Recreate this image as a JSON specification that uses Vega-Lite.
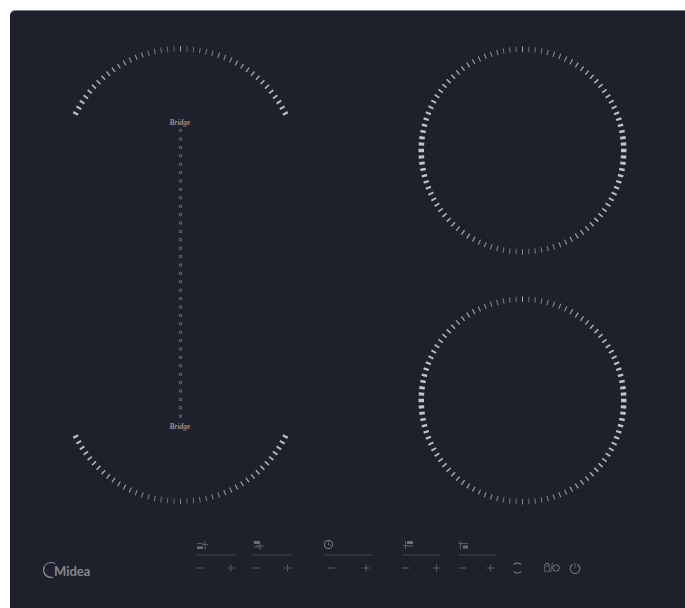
{
"$schema":"https://vega.github.io/schema/vega-lite/v6.json",
"width":685,"height":608,"padding":0,"background":"#ffffff",
"autosize":{"type":"fit","contains":"padding"},
"config":{"view":{"stroke":null}},
"resolve":{"scale":{"theta":"independent"}},
"datasets":{
"hobRing":[
{"from":-0.25,"to":0.25,"heat":0.9},{"from":3.32,"to":3.88,"heat":0.06},{"from":6.91,"to":7.49,"heat":0.13},{"from":10.51,"to":11.09,"heat":0.19},{"from":14.1,"to":14.7,"heat":0.25},{"from":17.69,"to":18.31,"heat":0.31},{"from":21.28,"to":21.92,"heat":0.37},{"from":24.87,"to":25.53,"heat":0.43},{"from":28.46,"to":29.14,"heat":0.48},{"from":32.05,"to":32.75,"heat":0.54},
{"from":35.63,"to":36.37,"heat":0.59},{"from":39.21,"to":39.99,"heat":0.64},{"from":42.78,"to":43.62,"heat":0.68},{"from":46.36,"to":47.24,"heat":0.73},{"from":49.94,"to":50.86,"heat":0.77},{"from":53.52,"to":54.48,"heat":0.81},{"from":57.1,"to":58.1,"heat":0.84},{"from":60.68,"to":61.72,"heat":0.88},{"from":64.25,"to":65.35,"heat":0.9},{"from":67.81,"to":68.99,"heat":0.93},
{"from":71.37,"to":72.63,"heat":0.95},{"from":74.91,"to":76.29,"heat":0.97},{"from":78.45,"to":79.95,"heat":0.98},{"from":81.98,"to":83.62,"heat":0.99},{"from":85.5,"to":87.3,"heat":1},{"from":89.03,"to":90.97,"heat":1},{"from":92.7,"to":94.5,"heat":1},{"from":96.38,"to":98.02,"heat":0.99},{"from":100.05,"to":101.55,"heat":0.98},{"from":103.71,"to":105.09,"heat":0.97},
{"from":107.37,"to":108.63,"heat":0.95},{"from":111.01,"to":112.19,"heat":0.93},{"from":114.65,"to":115.75,"heat":0.9},{"from":118.28,"to":119.32,"heat":0.88},{"from":121.9,"to":122.9,"heat":0.84},{"from":125.52,"to":126.48,"heat":0.81},{"from":129.14,"to":130.06,"heat":0.77},{"from":132.76,"to":133.64,"heat":0.73},{"from":136.38,"to":137.22,"heat":0.68},{"from":140.01,"to":140.79,"heat":0.64},
{"from":143.63,"to":144.37,"heat":0.59},{"from":147.25,"to":147.95,"heat":0.54},{"from":150.86,"to":151.54,"heat":0.48},{"from":154.47,"to":155.13,"heat":0.43},{"from":158.08,"to":158.72,"heat":0.37},{"from":161.69,"to":162.31,"heat":0.31},{"from":165.3,"to":165.9,"heat":0.25},{"from":168.91,"to":169.49,"heat":0.19},{"from":172.51,"to":173.09,"heat":0.13},{"from":176.12,"to":176.68,"heat":0.06},
{"from":179.75,"to":180.25,"heat":0.5},{"from":183.32,"to":183.88,"heat":0.06},{"from":186.91,"to":187.49,"heat":0.13},{"from":190.51,"to":191.09,"heat":0.19},{"from":194.1,"to":194.7,"heat":0.25},{"from":197.69,"to":198.31,"heat":0.31},{"from":201.28,"to":201.92,"heat":0.37},{"from":204.87,"to":205.53,"heat":0.43},{"from":208.46,"to":209.14,"heat":0.48},{"from":212.05,"to":212.75,"heat":0.54},
{"from":215.63,"to":216.37,"heat":0.59},{"from":219.21,"to":219.99,"heat":0.64},{"from":222.78,"to":223.62,"heat":0.68},{"from":226.36,"to":227.24,"heat":0.73},{"from":229.94,"to":230.86,"heat":0.77},{"from":233.52,"to":234.48,"heat":0.81},{"from":237.1,"to":238.1,"heat":0.84},{"from":240.68,"to":241.72,"heat":0.88},{"from":244.25,"to":245.35,"heat":0.9},{"from":247.81,"to":248.99,"heat":0.93},
{"from":251.37,"to":252.63,"heat":0.95},{"from":254.91,"to":256.29,"heat":0.97},{"from":258.45,"to":259.95,"heat":0.98},{"from":261.98,"to":263.62,"heat":0.99},{"from":265.5,"to":267.3,"heat":1},{"from":269.03,"to":270.97,"heat":1},{"from":272.7,"to":274.5,"heat":1},{"from":276.38,"to":278.02,"heat":0.99},{"from":280.05,"to":281.55,"heat":0.98},{"from":283.71,"to":285.09,"heat":0.97},
{"from":287.37,"to":288.63,"heat":0.95},{"from":291.01,"to":292.19,"heat":0.93},{"from":294.65,"to":295.75,"heat":0.9},{"from":298.28,"to":299.32,"heat":0.88},{"from":301.9,"to":302.9,"heat":0.84},{"from":305.52,"to":306.48,"heat":0.81},{"from":309.14,"to":310.06,"heat":0.77},{"from":312.76,"to":313.64,"heat":0.73},{"from":316.38,"to":317.22,"heat":0.68},{"from":320.01,"to":320.79,"heat":0.64},
{"from":323.63,"to":324.37,"heat":0.59},{"from":327.25,"to":327.95,"heat":0.54},{"from":330.86,"to":331.54,"heat":0.48},{"from":334.47,"to":335.13,"heat":0.43},{"from":338.08,"to":338.72,"heat":0.37},{"from":341.69,"to":342.31,"heat":0.31},{"from":345.3,"to":345.9,"heat":0.25},{"from":348.91,"to":349.49,"heat":0.19},{"from":352.51,"to":353.09,"heat":0.13},{"from":356.12,"to":356.68,"heat":0.06}
],
"bridgeTop":[
{"from":-0.2,"to":0.2,"heat":0.9},{"from":3.09,"to":3.51,"heat":0.06},{"from":6.38,"to":6.82,"heat":0.12},{"from":9.67,"to":10.13,"heat":0.17},{"from":12.96,"to":13.44,"heat":0.23},{"from":16.25,"to":16.75,"heat":0.28},{"from":19.54,"to":20.06,"heat":0.34},{"from":22.83,"to":23.37,"heat":0.39},{"from":26.12,"to":26.68,"heat":0.45},{"from":29.41,"to":29.99,"heat":0.5},
{"from":32.7,"to":33.3,"heat":0.55},{"from":35.98,"to":36.62,"heat":0.59},{"from":39.26,"to":39.94,"heat":0.64},{"from":42.54,"to":43.26,"heat":0.68},{"from":45.82,"to":46.58,"heat":0.72},{"from":49.09,"to":49.91,"heat":0.76},{"from":52.36,"to":53.24,"heat":0.8},{"from":55.63,"to":56.57,"heat":0.83},{"from":58.89,"to":59.91,"heat":0.86},{"from":62.15,"to":63.25,"heat":0.89},{"from":65.4,"to":66.6,"heat":0.91},
{"from":-3.51,"to":-3.09,"heat":0.06},{"from":-6.82,"to":-6.38,"heat":0.12},{"from":-10.13,"to":-9.67,"heat":0.17},{"from":-13.44,"to":-12.96,"heat":0.23},{"from":-16.75,"to":-16.25,"heat":0.28},{"from":-20.06,"to":-19.54,"heat":0.34},{"from":-23.37,"to":-22.83,"heat":0.39},{"from":-26.68,"to":-26.12,"heat":0.45},{"from":-29.99,"to":-29.41,"heat":0.5},
{"from":-33.3,"to":-32.7,"heat":0.55},{"from":-36.62,"to":-35.98,"heat":0.59},{"from":-39.94,"to":-39.26,"heat":0.64},{"from":-43.26,"to":-42.54,"heat":0.68},{"from":-46.58,"to":-45.82,"heat":0.72},{"from":-49.91,"to":-49.09,"heat":0.76},{"from":-53.24,"to":-52.36,"heat":0.8},{"from":-56.57,"to":-55.63,"heat":0.83},{"from":-59.91,"to":-58.89,"heat":0.86},{"from":-63.25,"to":-62.15,"heat":0.89},{"from":-66.6,"to":-65.4,"heat":0.91}
],
"bridgeBottom":[
{"from":179.8,"to":180.2,"heat":0.5},{"from":183.09,"to":183.51,"heat":0.06},{"from":186.38,"to":186.82,"heat":0.12},{"from":189.67,"to":190.13,"heat":0.17},{"from":192.96,"to":193.44,"heat":0.23},{"from":196.25,"to":196.75,"heat":0.28},{"from":199.54,"to":200.06,"heat":0.34},{"from":202.83,"to":203.37,"heat":0.39},{"from":206.12,"to":206.68,"heat":0.45},{"from":209.41,"to":209.99,"heat":0.5},
{"from":212.7,"to":213.3,"heat":0.55},{"from":215.98,"to":216.62,"heat":0.59},{"from":219.26,"to":219.94,"heat":0.64},{"from":222.54,"to":223.26,"heat":0.68},{"from":225.82,"to":226.58,"heat":0.72},{"from":229.09,"to":229.91,"heat":0.76},{"from":232.36,"to":233.24,"heat":0.8},{"from":235.63,"to":236.57,"heat":0.83},{"from":238.89,"to":239.91,"heat":0.86},{"from":242.15,"to":243.25,"heat":0.89},{"from":245.4,"to":246.6,"heat":0.91},
{"from":176.49,"to":176.91,"heat":0.06},{"from":173.18,"to":173.62,"heat":0.12},{"from":169.87,"to":170.33,"heat":0.17},{"from":166.56,"to":167.04,"heat":0.23},{"from":163.25,"to":163.75,"heat":0.28},{"from":159.94,"to":160.46,"heat":0.34},{"from":156.63,"to":157.17,"heat":0.39},{"from":153.32,"to":153.88,"heat":0.45},{"from":150.01,"to":150.59,"heat":0.5},
{"from":146.7,"to":147.3,"heat":0.55},{"from":143.38,"to":144.02,"heat":0.59},{"from":140.06,"to":140.74,"heat":0.64},{"from":136.74,"to":137.46,"heat":0.68},{"from":133.42,"to":134.18,"heat":0.72},{"from":130.09,"to":130.91,"heat":0.76},{"from":126.76,"to":127.64,"heat":0.8},{"from":123.43,"to":124.37,"heat":0.83},{"from":120.09,"to":121.11,"heat":0.86},{"from":116.75,"to":117.85,"heat":0.89},{"from":113.4,"to":114.6,"heat":0.91}
]
},
"layer":[
{"data":{"values":[{"x":10,"x2":700,"y":10,"y2":620}]},
 "mark":{"type":"rect","color":"#80828a","cornerRadius":5,"clip":true},
 "encoding":{
  "x":{"field":"x","type":"quantitative","axis":null,"scale":{"domain":[0,685],"nice":false,"zero":false}},
  "y":{"field":"y","type":"quantitative","axis":null,"scale":{"domain":[0,608],"nice":false,"zero":false,"reverse":true}},
  "x2":{"field":"x2"},"y2":{"field":"y2"}}},
{"data":{"values":[{"x":10,"x2":700,"y":11,"y2":620}]},
 "mark":{"type":"rect","color":"#1e202c","cornerRadius":5,"clip":true},
 "encoding":{
  "x":{"field":"x","type":"quantitative","axis":null,"scale":{"domain":[0,685],"nice":false,"zero":false}},
  "y":{"field":"y","type":"quantitative","axis":null,"scale":{"domain":[0,608],"nice":false,"zero":false,"reverse":true}},
  "x2":{"field":"x2"},"y2":{"field":"y2"}}},
{"data":{"name":"hobRing"},"mark":{"type":"arc","radius":104,"radius2":98.5,"color":"#eeeeee"},
 "encoding":{
  "x":{"datum":522.5,"type":"quantitative","axis":null,"scale":{"domain":[0,685],"nice":false,"zero":false}},
  "y":{"datum":150.5,"type":"quantitative","axis":null,"scale":{"domain":[0,608],"nice":false,"zero":false,"reverse":true}},
  "theta":{"field":"from","type":"quantitative","stack":false,"scale":{"domain":[0,360],"range":[0,6.283185]}},"theta2":{"field":"to"},
  "opacity":{"field":"heat","type":"quantitative","legend":null,"scale":{"domain":[0,1],"range":[0.38,0.8]}}}},
{"data":{"name":"hobRing"},"mark":{"type":"arc","radius":104,"radius2":98.5,"color":"#eeeeee"},
 "encoding":{
  "x":{"datum":522.5,"type":"quantitative","axis":null,"scale":{"domain":[0,685],"nice":false,"zero":false}},
  "y":{"datum":400.5,"type":"quantitative","axis":null,"scale":{"domain":[0,608],"nice":false,"zero":false,"reverse":true}},
  "theta":{"field":"from","type":"quantitative","stack":false,"scale":{"domain":[0,360],"range":[0,6.283185]}},"theta2":{"field":"to"},
  "opacity":{"field":"heat","type":"quantitative","legend":null,"scale":{"domain":[0,1],"range":[0.38,0.8]}}}},
{"data":{"name":"bridgeTop"},"mark":{"type":"arc","radius":120,"radius2":114.5,"color":"#eeeeee"},
 "encoding":{
  "x":{"datum":180.5,"type":"quantitative","axis":null,"scale":{"domain":[0,685],"nice":false,"zero":false}},
  "y":{"datum":166,"type":"quantitative","axis":null,"scale":{"domain":[0,608],"nice":false,"zero":false,"reverse":true}},
  "theta":{"field":"from","type":"quantitative","stack":false,"scale":{"domain":[0,360],"range":[0,6.03186]}},"theta2":{"field":"to"},
  "opacity":{"field":"heat","type":"quantitative","legend":null,"scale":{"domain":[0,1],"range":[0.38,0.8]}}}},
{"data":{"name":"bridgeBottom"},"mark":{"type":"arc","radius":120,"radius2":114.5,"color":"#eeeeee"},
 "encoding":{
  "x":{"datum":180.5,"type":"quantitative","axis":null,"scale":{"domain":[0,685],"nice":false,"zero":false}},
  "y":{"datum":384,"type":"quantitative","axis":null,"scale":{"domain":[0,608],"nice":false,"zero":false,"reverse":true}},
  "theta":{"field":"from","type":"quantitative","stack":false,"scale":{"domain":[0,360],"range":[0.12566,6.15752]}},"theta2":{"field":"to"},
  "opacity":{"field":"heat","type":"quantitative","legend":null,"scale":{"domain":[0,1],"range":[0.38,0.8]}}}},
{"encoding":{
  "x":{"field":"x","type":"quantitative","axis":null,"scale":{"domain":[0,685],"nice":false,"zero":false}},
  "y":{"field":"y","type":"quantitative","axis":null,"scale":{"domain":[0,608],"nice":false,"zero":false,"reverse":true}}},
 "layer":[
{"data":{"values":[
{"x":180.5,"y":130.5},{"x":180.5,"y":139},{"x":180.5,"y":147.4},{"x":180.5,"y":155.8},{"x":180.5,"y":164.2},{"x":180.5,"y":172.6},{"x":180.5,"y":181},{"x":180.5,"y":189.4},{"x":180.5,"y":197.8},{"x":180.5,"y":206.2},
{"x":180.5,"y":214.6},{"x":180.5,"y":223},{"x":180.5,"y":231.4},{"x":180.5,"y":239.8},{"x":180.5,"y":248.2},{"x":180.5,"y":256.6},{"x":180.5,"y":265},{"x":180.5,"y":273.4},{"x":180.5,"y":281.8},{"x":180.5,"y":290.2},
{"x":180.5,"y":298.6},{"x":180.5,"y":307},{"x":180.5,"y":315.4},{"x":180.5,"y":323.8},{"x":180.5,"y":332.2},{"x":180.5,"y":340.6},{"x":180.5,"y":349},{"x":180.5,"y":357.4},{"x":180.5,"y":365.8},{"x":180.5,"y":374.2},
{"x":180.5,"y":382.6},{"x":180.5,"y":391},{"x":180.5,"y":399.4},{"x":180.5,"y":407.8},{"x":180.5,"y":416.2}]},
 "mark":{"type":"point","shape":"square","size":5,"filled":false,"stroke":"#8a8b92","strokeWidth":0.7,"opacity":0.9}},
{"data":{"values":[
{"x":197,"x2":235,"y":555,"y2":555},{"x":253,"x2":291,"y":555,"y2":555},{"x":324,"x2":373,"y":555,"y2":555},{"x":402.5,"x2":440,"y":555,"y2":555},{"x":458,"x2":495,"y":555,"y2":555}]},
 "mark":{"type":"rule","color":"#44454f","strokeWidth":1},
 "encoding":{"x2":{"field":"x2"},"y2":{"field":"y2"}}},
{"data":{"values":[
{"x":196,"x2":203,"y":568,"y2":568},{"x":227.5,"x2":234.5,"y":568,"y2":568},{"x":231,"x2":231,"y":564.5,"y2":571.5},
{"x":253,"x2":260,"y":568,"y2":568},{"x":284,"x2":291,"y":568,"y2":568},{"x":287.5,"x2":287.5,"y":564.5,"y2":571.5},
{"x":328,"x2":335,"y":568,"y2":568},{"x":362.5,"x2":369.5,"y":568,"y2":568},{"x":366,"x2":366,"y":564.5,"y2":571.5},
{"x":402,"x2":409,"y":568,"y2":568},{"x":433,"x2":440,"y":568,"y2":568},{"x":436.5,"x2":436.5,"y":564.5,"y2":571.5},
{"x":459,"x2":466,"y":568,"y2":568},{"x":487,"x2":494,"y":568,"y2":568},{"x":490.5,"x2":490.5,"y":564.5,"y2":571.5},
{"x":197,"x2":203,"y":543.5,"y2":543.5},{"x":205,"x2":205,"y":541,"y2":549.5},{"x":202,"x2":208,"y":544.5,"y2":544.5},
{"x":254,"x2":260,"y":547,"y2":547},{"x":260,"x2":260,"y":543.5,"y2":550},{"x":256,"x2":264,"y":546,"y2":546},
{"x":405.5,"x2":405.5,"y":541,"y2":549.5},{"x":403,"x2":408,"y":545.5,"y2":545.5},{"x":407,"x2":413,"y":546,"y2":546},
{"x":460.5,"x2":460.5,"y":541,"y2":549.5},{"x":458,"x2":468,"y":543.5,"y2":543.5},
{"x":328.5,"x2":328.5,"y":541.5,"y2":545},{"x":328.5,"x2":331,"y":545,"y2":545},
{"x":575,"x2":575,"y":563,"y2":568.5},{"x":550.5,"x2":552.5,"y":572.5,"y2":563},
{"x":544.5,"x2":549.5,"y":566,"y2":566},{"x":544.5,"x2":549.5,"y":571.5,"y2":571.5},{"x":544.5,"x2":544.5,"y":566,"y2":571.5},{"x":549.5,"x2":549.5,"y":566,"y2":571.5}]},
 "mark":{"type":"rule","color":"#575862","strokeWidth":1.1},
 "encoding":{"x2":{"field":"x2"},"y2":{"field":"y2"}}},
{"data":{"values":[
{"x":197,"x2":203,"y":546.5,"y2":549},{"x":254,"x2":260,"y":541,"y2":544},{"x":407,"x2":413,"y":541,"y2":544},{"x":463,"x2":468,"y":545.5,"y2":548.5}]},
 "mark":{"type":"rect","color":"#6c6d76"},
 "encoding":{"x2":{"field":"x2"},"y2":{"field":"y2"}}},
{"data":{"values":[
{"x":328.5,"y":544.5,"from":0,"to":360,"r":4.5,"r2":3.6},
{"x":517.3,"y":568,"from":-48,"to":48,"r":5.5,"r2":4.6},
{"x":517.3,"y":568,"from":132,"to":228,"r":5.5,"r2":4.6},
{"x":547,"y":565.5,"from":-90,"to":90,"r":2.6,"r2":1.8},
{"x":556,"y":568,"from":0,"to":360,"r":3.6,"r2":2.8},
{"x":575,"y":568.7,"from":30,"to":330,"r":5.3,"r2":4.4},
{"x":51,"y":570,"from":-200,"to":35,"r":8,"r2":7.1},
{"x":51,"y":570,"from":170,"to":300,"r":8,"r2":6.7}]},
 "mark":{"type":"arc","color":"#85868c"},
 "encoding":{
  "theta":{"field":"from","type":"quantitative","stack":false,"scale":{"domain":[0,360],"range":[0,6.283185]}},"theta2":{"field":"to"},
  "radius":{"field":"r","type":"quantitative","scale":null},"radius2":{"field":"r2"}}},
{"data":{"values":[{"label":"Bridge","x":180,"y":123.3},{"label":"Bridge","x":180,"y":426.5}]},
 "mark":{"type":"text","font":"Liberation Serif","fontStyle":"italic","fontWeight":"bold","fontSize":7.5,"align":"center","baseline":"middle","color":"#8f9096"},
 "encoding":{"text":{"field":"label"}}},
{"data":{"values":[{"label":"Midea","x":54,"y":572}]},
 "mark":{"type":"text","font":"Lato","fontWeight":"bold","fontSize":13,"align":"left","baseline":"middle","color":"#85868c"},
 "encoding":{"text":{"field":"label"}}}
]}
]
}
